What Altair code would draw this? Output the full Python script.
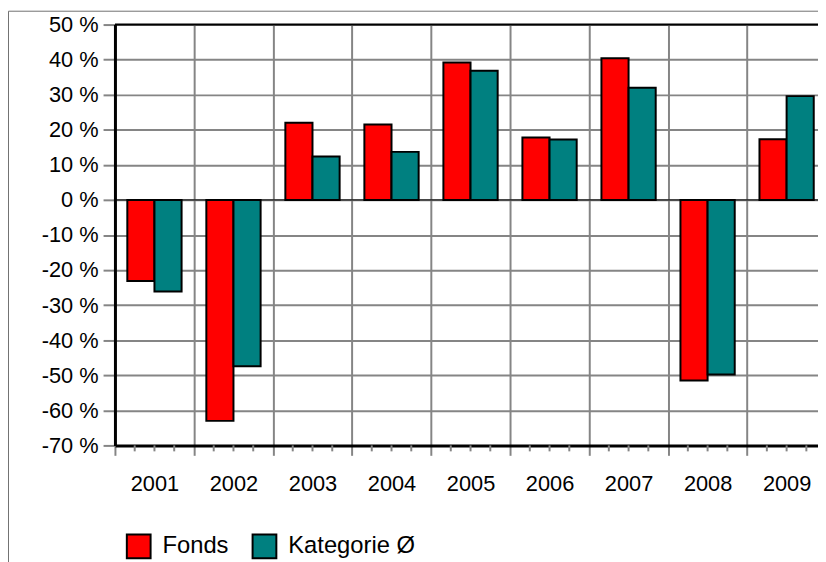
import altair as alt
import pandas as pd

years = ["2001", "2002", "2003", "2004", "2005", "2006", "2007", "2008", "2009"]
fonds = [-23.1, -63.0, 22.0, 21.5, 39.2, 17.8, 40.4, -51.5, 17.3]
kategorie = [-26.1, -47.4, 12.4, 13.7, 36.8, 17.2, 32.0, -49.8, 29.6]
series = ["Fonds", "Kategorie Ø"]
colors = ["#ff0000", "#008080"]
y_ticks = list(range(-70, 51, 10))

rows = []
for i, yr in enumerate(years):
    rows.append({"Jahr": yr, "Serie": series[0], "Wert": fonds[i]})
    rows.append({"Jahr": yr, "Serie": series[1], "Wert": kategorie[i]})
df = pd.DataFrame(rows)
df_years = pd.DataFrame({"Jahr": years})
df_top = pd.DataFrame({"Wert": [50]})
df_zero = pd.DataFrame({"Wert": [0]})

W = 710
H = 425
BAND = 79.8
FONT = "Liberation Sans"
GRID = "#858585"

xscale = alt.Scale(domain=years, range=[0, BAND * len(years)], paddingInner=0, paddingOuter=0)
yscale = alt.Scale(domain=[-70, 50], nice=False, zero=False)

x_axis = alt.Axis(
    title=None, tickBand="extent", grid=True, gridColor=GRID, gridWidth=2,
    domainColor="black", domainWidth=3, tickColor=GRID, tickWidth=2, tickSize=10,
    labelFontSize=22, labelFont=FONT, labelColor="black", labelPadding=19,
    labelAngle=0, labelBaseline="top", labelOverlap=False,
)
y_axis = alt.Axis(
    title=None, values=y_ticks, labelExpr="datum.value + ' %'", grid=True,
    gridColor=GRID, gridWidth=2, domainColor="black", domainWidth=3,
    tickColor=GRID, tickWidth=2, tickSize=12, labelPadding=5, labelOverlap=False,
    labelFontSize=22, labelFont=FONT, labelColor="black",
)

bars = alt.Chart(df).mark_bar(stroke="black", strokeWidth=2, opacity=1).encode(
    x=alt.X("Jahr:N", scale=xscale, sort=years, axis=x_axis),
    xOffset=alt.XOffset("Serie:N", sort=series,
                        scale=alt.Scale(domain=series, paddingInner=0, paddingOuter=0.456)),
    y=alt.Y("Wert:Q", scale=yscale, axis=y_axis),
    color=alt.Color("Serie:N", sort=series,
                    scale=alt.Scale(domain=series, range=colors),
                    legend=alt.Legend(
                        title=None, orient="none", legendX=11, legendY=514,
                        direction="horizontal", columns=2, symbolType="square",
                        symbolSize=576, symbolStrokeColor="black", symbolStrokeWidth=2,
                        symbolOpacity=1, labelFontSize=24, labelFont=FONT,
                        labelColor="black", labelOffset=11, columnPadding=20,
                        padding=0)),
)

minor = []
for q in [0.25, 0.5, 0.75]:
    minor.append(
        alt.Chart(df_years).mark_rule(color=GRID, strokeWidth=2).encode(
            x=alt.X("Jahr:N", scale=xscale, sort=years, bandPosition=q, axis=x_axis),
            y=alt.value(H), y2=alt.value(H + 6),
        )
    )

top_line = alt.Chart(df_top).mark_rule(color="black", strokeWidth=2).encode(
    y=alt.Y("Wert:Q", scale=yscale, axis=y_axis)
)
zero_line = alt.Chart(df_zero).mark_rule(color="black", strokeWidth=1).encode(
    y=alt.Y("Wert:Q", scale=yscale, axis=y_axis)
)

frame_left = alt.Chart(df_top).mark_rule(color="#707070", strokeWidth=1).encode(
    x=alt.value(-107.5), y=alt.value(-13.5), y2=alt.value(560)
)
frame_top = alt.Chart(df_top).mark_rule(color="#707070", strokeWidth=1).encode(
    x=alt.value(-107.5), x2=alt.value(720), y=alt.value(-13.5)
)

chart = alt.layer(
    frame_left, frame_top, zero_line, bars, *minor, top_line
).properties(
    width=W, height=H,
    autosize=alt.AutoSizeParams(type="none"),
    padding={"left": 108, "top": 14, "right": 0, "bottom": 115},
).configure_view(stroke=None)

chart.save("out.html", embed_options={"renderer": "svg", "actions": False})
